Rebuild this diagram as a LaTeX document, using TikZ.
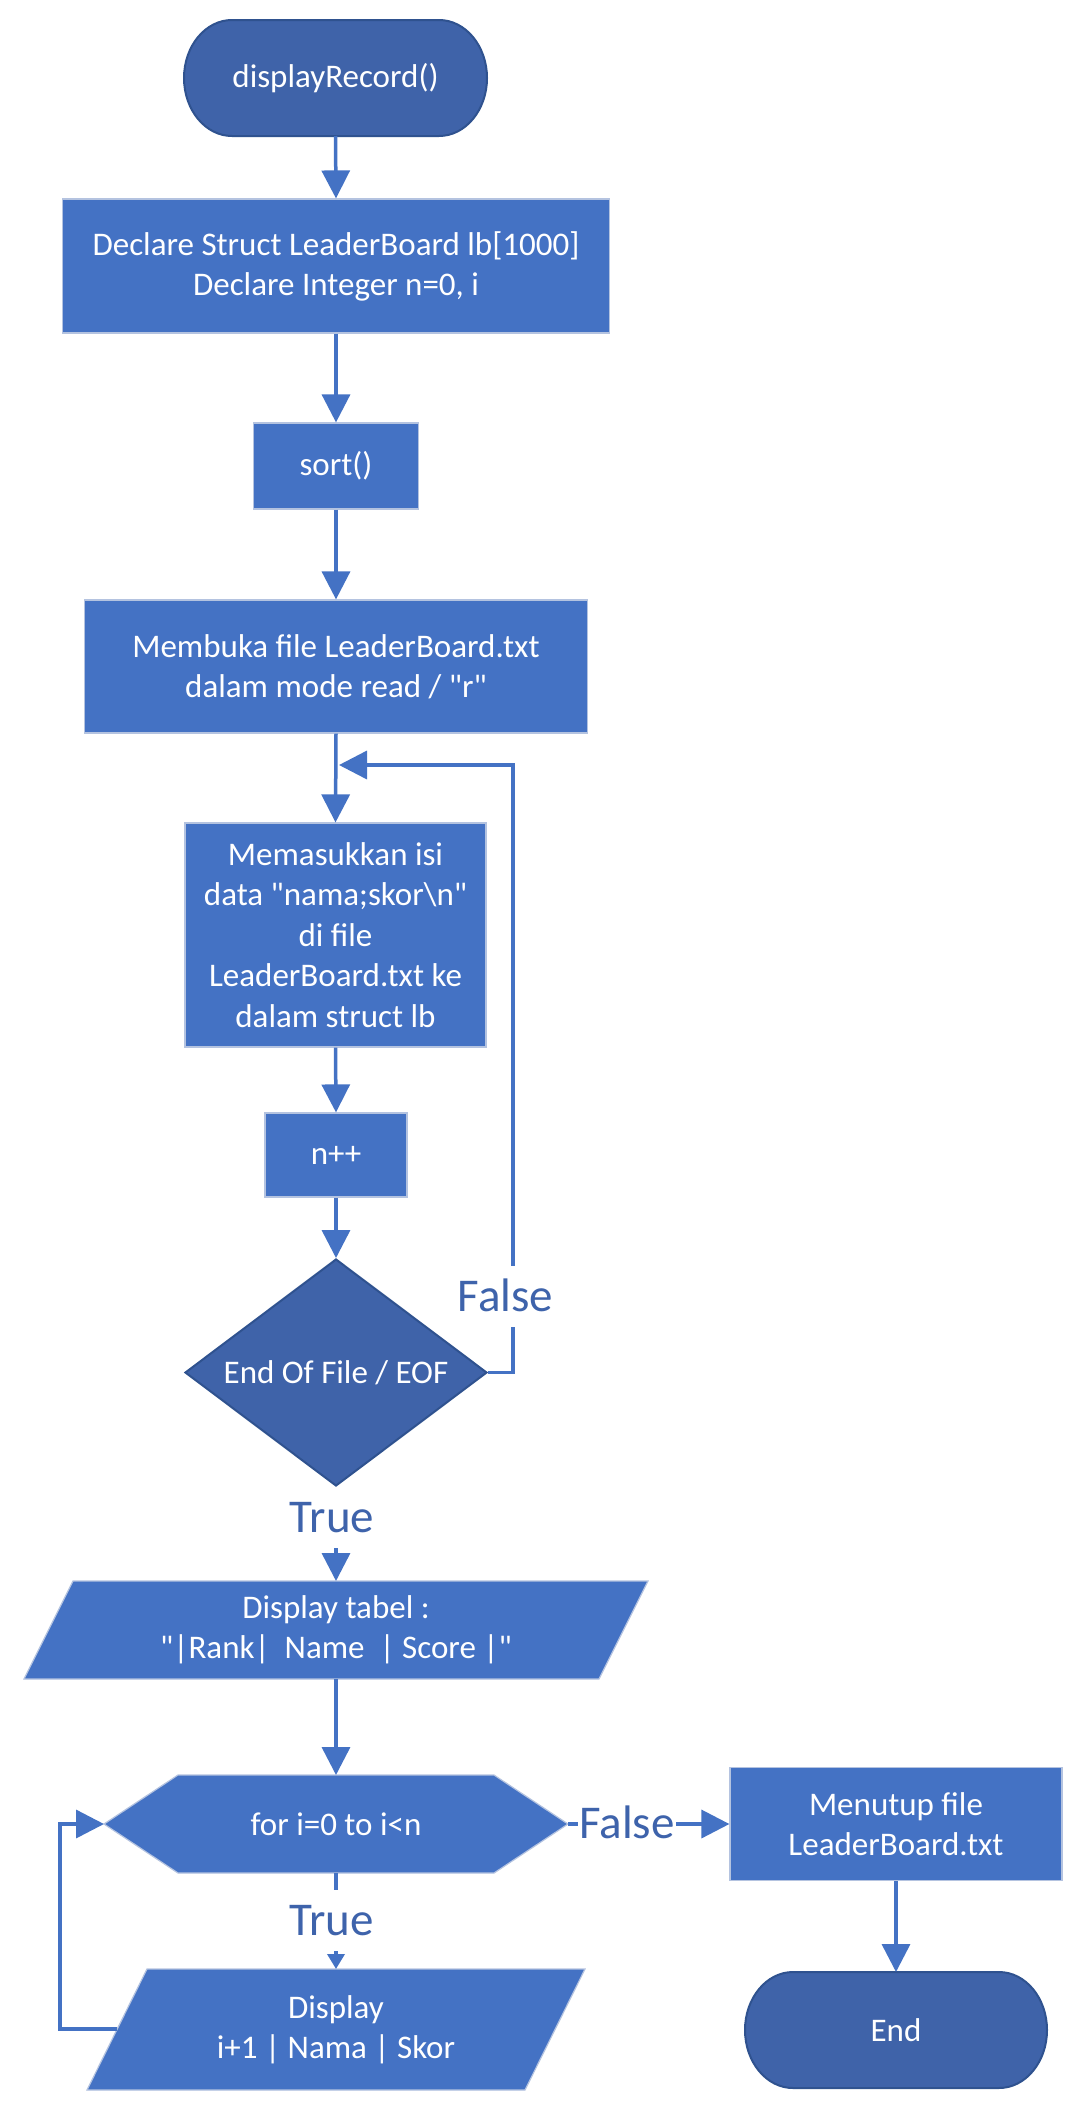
\documentclass[tikz,border=0pt]{standalone}
\usepackage{fontspec}
\setmainfont{Carlito}
\usetikzlibrary{shapes.geometric,arrows.meta,backgrounds}
\definecolor{boxblue}{HTML}{4472C4}
\definecolor{termblue}{HTML}{3F63A9}
\definecolor{termline}{HTML}{2F528F}
\definecolor{boxline}{HTML}{B4C3E0}
\definecolor{lblblue}{HTML}{3E63AB}
\newcommand{\boxfont}{\fontsize{33}{40}\selectfont}
\newcommand{\lblfont}{\fontsize{47}{56}\selectfont}
\newcommand{\dq}{\textquotedbl}
\begin{document}
\begin{tikzpicture}[x=1pt,y=-1pt,
  proc/.style={rectangle, fill=boxblue, draw=boxline, line width=1.2pt, text=white, font=\boxfont, align=center, inner sep=0pt},
  txt/.style={rectangle, text=white, font=\boxfont, align=center, inner sep=0pt, outer sep=0pt},
  conn/.style={draw=boxblue, line width=3.5pt, -{Triangle[length=28pt,width=28pt]}},
  lbl/.style={fill=white, text=lblblue, font=\lblfont, text height=45pt, text depth=16pt, inner xsep=1pt, inner ysep=0pt, anchor=base},
  termshape/.style={fill=termblue, draw=termline, line width=2pt},
  shapeproc/.style={fill=boxblue, draw=boxline, line width=1.2pt},
  decision/.style={diamond, aspect=1.33, fill=termblue, draw=termline, line width=2pt, inner sep=0pt, text=white, font=\boxfont, align=center}
]
\useasboundingbox (0,0) rectangle (1083,2113);

% ---- nodes ----
\node[txt, minimum width=303pt, minimum height=116pt] (start) at (335.5,78) {displayRecord()};
\node[proc, minimum width=547pt, minimum height=134pt] (decl) at (336,266) {Declare Struct LeaderBoard lb[1000]\\Declare Integer n=0, i};
\node[proc, minimum width=165pt, minimum height=86pt] (sort) at (336,466) {sort()};
\node[proc, minimum width=503pt, minimum height=133pt] (open) at (336,666.5) {Membuka file LeaderBoard.txt\\dalam mode read / \dq r\dq};
\node[proc, minimum width=301pt, minimum height=224pt, font=\fontsize{33}{40.5}\selectfont] (read) at (335.5,935) {Memasukkan isi\\data \dq nama;skor\textbackslash n\dq\\di file\\LeaderBoard.txt ke\\dalam struct lb};
\node[proc, minimum width=142pt, minimum height=84pt] (inc) at (336,1155) {n++};
\node[decision, minimum width=302pt, minimum height=227pt] (eof) at (336,1372.5) {End Of File / EOF};
\node[txt] (tab) at (336,1630) {Display tabel :\\\dq|Rank|\ \ Name\ \ | Score |\dq};
\node[txt] (for) at (336,1824) {for i=0 to i<n};
\node[txt] (disp) at (336,2029.5) {Display\\i+1 | Nama | Skor};
\node[proc, minimum width=332pt, minimum height=113pt] (close) at (896,1824) {Menutup file\\LeaderBoard.txt};
\node[txt, minimum width=302pt, minimum height=116pt] (stop) at (896,2030) {End};

\coordinate (tabN) at (336,1581);
\coordinate (tabS) at (336,1679);
\coordinate (forN) at (336,1775);
\coordinate (forS) at (336,1873);
\coordinate (forE) at (568,1824);
\coordinate (forW) at (104,1824);
\coordinate (dispN) at (336,1969);
\coordinate (dispW) at (117,2029);
\coordinate (lpL) at (60,1950);
\coordinate (lpR) at (513,1000);
\coordinate (join) at (339,765);

% ---- shapes on background ----
\begin{scope}[on background layer]
\fill[white] (0,0) rectangle (1083,2113);
\path[termshape] ([xshift=48pt]start.north west) -- ([xshift=-48pt]start.north east)
  arc[start angle=90,end angle=-90,x radius=48pt,y radius=58pt]
  -- ([xshift=48pt]start.south west)
  arc[start angle=270,end angle=90,x radius=48pt,y radius=58pt] -- cycle;
\path[termshape] ([xshift=48pt]stop.north west) -- ([xshift=-48pt]stop.north east)
  arc[start angle=90,end angle=-90,x radius=48pt,y radius=58pt]
  -- ([xshift=48pt]stop.south west)
  arc[start angle=270,end angle=90,x radius=48pt,y radius=58pt] -- cycle;
\path[shapeproc] (24,1679) -- (73,1581) -- (648,1581) -- (599,1679) -- cycle;
\path[shapeproc] (104,1824) -- (178,1775) -- (494,1775) -- (568,1824) -- (494,1873) -- (178,1873) -- cycle;
\path[shapeproc] (87,2090) -- (147,1969) -- (585,1969) -- (525,2090) -- cycle;
\end{scope}

% ---- connectors ----
\draw[conn] (start.south) -- (decl.north);
\draw[conn] (decl.south) -- (sort.north);
\draw[conn] (sort.south) -- (open.north);
\draw[conn] (open.south) -- (read.north);
\draw[conn] (read.south) -- (inc.north);
\draw[conn] (inc.south) -- (eof.north);
\draw[conn] (eof.south) -- (tabN);
\draw[conn] (tabS) -- (forN);
\draw[conn] (forE) -- (close.west);
\draw[conn] (close.south) -- (stop.north);
\draw[conn, -{Triangle[length=15pt,width=17pt]}] (forS) -- (dispN);
\draw[conn] (dispW) -| (lpL) |- (forW);
\draw[conn] (eof.east) -| (lpR) |- (join);

% ---- labels ----
\node[lbl] (t1) at (332,1532) {True};
\node[lbl] (t2) at (331.5,1935) {True};
\node[lbl] (f1) at (505.5,1311) {False};
\node[lbl] (f2) at (627,1838) {False};
\end{tikzpicture}
\end{document}
